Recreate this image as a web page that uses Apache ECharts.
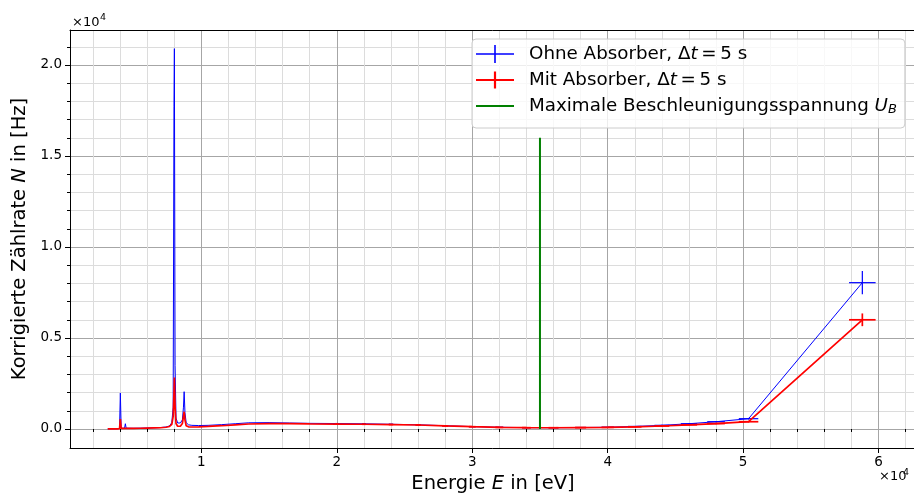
<!DOCTYPE html>
<html><head><meta charset="utf-8">
<script src="https://cdn.jsdelivr.net/npm/echarts@6/dist/echarts.min.js"></script>
<style>html,body{margin:0;padding:0;background:#fff;overflow:hidden}#c{width:914px;height:497px;display:block}</style>
</head><body><div id="c"></div>
<script>
// ---- data ----
const energy = [3090,3400,3800,3960,4020,4080,4330,4390,4450,5000,5500,6000,6500,7000,7400,7650,7820,7920,7980,8010,8060,8130,8250,8450,8600,8680,8730,8790,8880,9050,9300,9800,10500,11500,12500,13500,15000,16500,18000,20000,22000,24000,26000,28000,30000,32000,34000,36000,38000,40000,42000,44000,46000,48000,50400,58800];
const countsOhne = [5,10,15,30,1980,40,40,290,45,40,45,55,65,80,110,170,350,1200,17700,20900,3500,600,330,330,500,1200,2050,900,350,230,200,190,200,240,290,340,350,330,310,300,285,260,230,180,130,95,75,72,82,95,140,200,290,400,566,8040];
const countsMit = [5,8,12,20,550,30,30,120,35,35,40,50,60,70,95,140,250,700,2000,2830,1200,300,150,150,300,700,950,500,180,120,110,115,140,180,230,275,290,295,280,270,260,245,220,170,125,90,72,70,78,90,120,165,230,300,400,6000];
const errEnergy = [20000,22000,24000,26000,28000,30000,32000,34000,36000,38000,40000,42000,44000,46000,48000,50400,58800];
const errEnergyDE = [112,136,162,190,221,254,289,327,366,408,452,499,548,599,652,720,980];
const errOhneDN = [15,15,15,15,15,15,15,15,15,18,20,25,30,35,40,45,640];
const errMitDN = [15,15,15,15,15,15,15,15,15,18,20,22,25,30,35,40,350];
const ubEnergy = [35000, 35000];
const ubCounts = [0, 16000];
const xMajorTicks = [10000,20000,30000,40000,50000,60000];
const xMinorTicks = [2000,4000,6000,8000,12000,14000,16000,18000,22000,24000,26000,28000,32000,34000,36000,38000,42000,44000,46000,48000,52000,54000,56000,58000,62000];
const yMajorTicks = [0,5000,10000,15000,20000];
const yMinorTicks = [1000,2000,3000,4000,6000,7000,8000,9000,11000,12000,13000,14000,16000,17000,18000,19000,21000];
const seriesNames = ['Ohne Absorber','Mit Absorber','Maximale Beschleunigungsspannung'];

// ---- layout / style ----
const FONT = 'DejaVu Sans';
const X_MIN = 303, X_MAX = 62762, Y_MIN = -1044, Y_MAX = 21923;
const MAJOR = '#a6a6a6', MINOR = '#dcdcdc';
const BLUE = '#0000ff', RED = '#ff0000', GREEN = '#008000';

const zip = (a, b) => a.map((v, i) => [v, b[i]]);
const errData = (dn, counts) => errEnergy.map((e, i) => [e, counts[energy.indexOf(e)], errEnergyDE[i], dn[i]]);

function errRender(color, width) {
  return function (params, api) {
    const x = api.value(0), y = api.value(1), dx = api.value(2), dy = api.value(3);
    const l = api.coord([x - dx, y]), r = api.coord([x + dx, y]);
    const t = api.coord([x, y + dy]), b = api.coord([x, y - dy]);
    const st = {stroke: color, lineWidth: width};
    return {type: 'group', children: [
      {type: 'line', shape: {x1: l[0], y1: l[1], x2: r[0], y2: r[1]}, style: st},
      {type: 'line', shape: {x1: t[0], y1: t[1], x2: b[0], y2: b[1]}, style: st}
    ]};
  };
}

const nameRich = {
  n: {fontFamily: FONT, fontSize: 19.5, color: '#000'},
  i: {fontFamily: FONT, fontSize: 19.5, color: '#000', fontStyle: 'italic'}
};
const tickLabel = {fontFamily: FONT, fontSize: 13.5, color: '#000'};
const spine = {show: true, onZero: false, lineStyle: {color: '#000', width: 1}};

const legendFmt = {
  'Ohne Absorber': '{sp| }{n|Ohne Absorber, Δ}{i|t}{n|\u2009=\u20095 s}',
  'Mit Absorber': '{sp| }{n|Mit Absorber, Δ}{i|t}{n|\u2009=\u20095 s}',
  'Maximale Beschleunigungsspannung': '{sp| }{n|Maximale Beschleunigungsspannung }{i|U}{sub|B}'
};

const chart = echarts.init(document.getElementById('c'), null, {renderer: 'canvas'});
chart.setOption({
  animation: false,
  backgroundColor: '#ffffff',
  grid: {left: 70, top: 30, width: 846, height: 418, show: false, containLabel: false, outerBoundsMode: 'none'},
  xAxis: [
    {type: 'value', min: X_MIN, max: X_MAX, position: 'bottom',
     axisLine: {show: false},
     axisTick: {show: true, length: 3, customValues: xMinorTicks, lineStyle: {color: '#000', width: 1}},
     axisLabel: {show: false, customValues: xMinorTicks},
     splitLine: {show: true, lineStyle: {color: MINOR, width: 1}}},
    {type: 'value', min: X_MIN, max: X_MAX, position: 'bottom',
     axisLine: spine,
     axisTick: {show: true, length: 5, customValues: xMajorTicks, lineStyle: {color: '#000', width: 1}},
     axisLabel: Object.assign({customValues: xMajorTicks, margin: 7, formatter: v => String(Math.round(v / 10000))}, tickLabel),
     splitLine: {show: true, lineStyle: {color: MAJOR, width: 1}},
     name: '{n|Energie }{i|E}{n| in [eV]}', nameLocation: 'middle', nameGap: 26,
     nameTextStyle: {fontFamily: FONT, fontSize: 19.5, color: '#000', rich: nameRich}},
    {type: 'value', min: X_MIN, max: X_MAX, position: 'top',
     axisLine: spine, axisTick: {show: false}, axisLabel: {show: false}, splitLine: {show: false}}
  ],
  yAxis: [
    {type: 'value', min: Y_MIN, max: Y_MAX, position: 'left',
     axisLine: {show: false},
     axisTick: {show: true, length: 3, customValues: yMinorTicks, lineStyle: {color: '#000', width: 1}},
     axisLabel: {show: false, customValues: yMinorTicks},
     splitLine: {show: true, lineStyle: {color: MINOR, width: 1}}},
    {type: 'value', min: Y_MIN, max: Y_MAX, position: 'left',
     axisLine: spine,
     axisTick: {show: true, length: 5, customValues: yMajorTicks, lineStyle: {color: '#000', width: 1}},
     axisLabel: Object.assign({customValues: yMajorTicks, margin: 8, formatter: v => (v / 10000).toFixed(1)}, tickLabel),
     splitLine: {show: true, lineStyle: {color: MAJOR, width: 1}},
     name: '{n|Korrigierte Zählrate }{i|N}{n| in [Hz]}', nameLocation: 'middle', nameGap: 32, nameRotate: 90,
     nameTextStyle: {fontFamily: FONT, fontSize: 19.5, color: '#000', rich: nameRich}}
  ],
  legend: {
    data: [
      {name: seriesNames[0], icon: 'path://M0,8.2 H38 V9.8 H0 Z M18.2,0 H19.8 V18 H18.2 Z'},
      {name: seriesNames[1], icon: 'path://M0,7.9 H38 V10.1 H0 Z M17.9,0.5 H20.1 V17.5 H17.9 Z M0,0 L0,0 Z M38,18 L38,18 Z'},
      {name: seriesNames[2], icon: 'path://M0,8 H38 V10 H0 Z M0,0 L0,0 Z M38,18 L38,18 Z'}
    ],
    orient: 'vertical', left: 472, top: 39,
    padding: [6, 8, 12, 4], itemGap: 8, itemWidth: 38, itemHeight: 18,
    backgroundColor: 'rgba(255,255,255,0.8)', borderColor: '#cccccc', borderWidth: 1, borderRadius: 4,
    selectedMode: false,
    itemStyle: {borderWidth: 0},
    formatter: n => legendFmt[n],
    textStyle: {fontFamily: FONT, fontSize: 18.3, color: '#000', rich: {
      sp: {width: 10, fontSize: 18.3, lineHeight: 20},
      n: {fontFamily: FONT, fontSize: 18.3, color: '#000', lineHeight: 20},
      i: {fontFamily: FONT, fontSize: 18.3, color: '#000', fontStyle: 'italic', lineHeight: 20},
      sub: {fontFamily: FONT, fontSize: 13, color: '#000', fontStyle: 'italic', lineHeight: 12, verticalAlign: 'bottom'}
    }}
  },
  graphic: [
    {type: 'text', x: 72, y: 22.5, style: {text: '×10', fontFamily: FONT, fontSize: 13, fill: '#000', verticalAlign: 'middle'}},
    {type: 'text', x: 100, y: 17.5, style: {text: '4', fontFamily: FONT, fontSize: 9.5, fill: '#000', verticalAlign: 'middle'}},
    {type: 'text', x: 879, y: 476.5, style: {text: '×10', fontFamily: FONT, fontSize: 13, fill: '#000', verticalAlign: 'middle'}},
    {type: 'text', x: 903, y: 472.5, style: {text: '4', fontFamily: FONT, fontSize: 9.5, fill: '#000', verticalAlign: 'middle'}}
  ],
  series: [
    {name: seriesNames[0], type: 'line', data: zip(energy, countsOhne), showSymbol: false, symbol: 'none',
     lineStyle: {color: BLUE, width: 1}, itemStyle: {color: BLUE}, z: 3},
    {name: 'errOhne', type: 'custom', data: errData(errOhneDN, countsOhne), renderItem: errRender(BLUE, 1.2),
     encode: {x: 0, y: 1}, itemStyle: {color: BLUE}, z: 3, silent: true},
    {name: seriesNames[1], type: 'line', data: zip(energy, countsMit), showSymbol: false, symbol: 'none',
     lineStyle: {color: RED, width: 1.7}, itemStyle: {color: RED}, z: 4},
    {name: 'errMit', type: 'custom', data: errData(errMitDN, countsMit), renderItem: errRender(RED, 1.7),
     encode: {x: 0, y: 1}, itemStyle: {color: RED}, z: 4, silent: true},
    {name: seriesNames[2], type: 'line', data: zip(ubEnergy, ubCounts), showSymbol: false, symbol: 'none',
     lineStyle: {color: GREEN, width: 2}, itemStyle: {color: GREEN}, z: 5}
  ]
});
</script></body></html>
